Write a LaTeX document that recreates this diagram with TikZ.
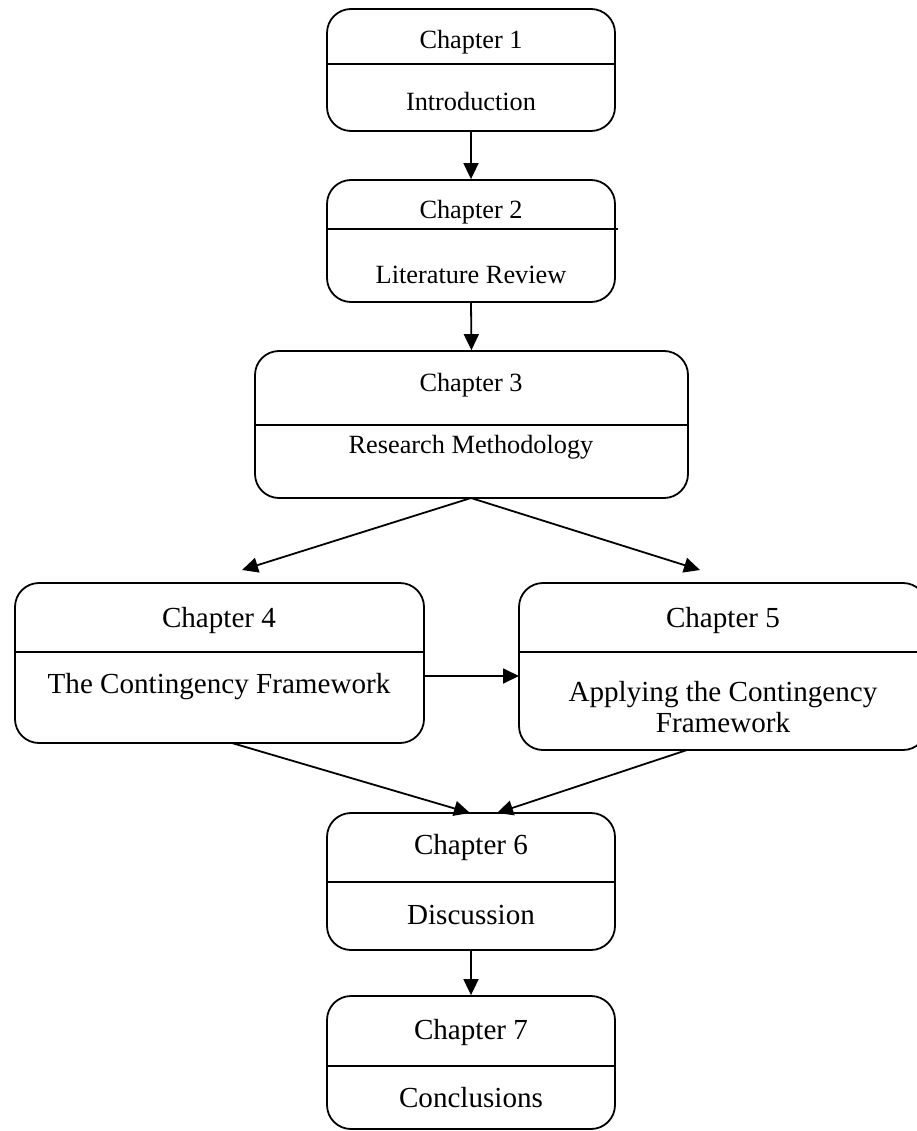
\documentclass[tikz,border=0pt]{standalone}
\usepackage{fontspec}
\setmainfont{Liberation Serif}
\usetikzlibrary{arrows.meta}
\tikzset{
  box/.style={draw, line width=1.8pt, rounded corners=24pt, inner sep=0pt},
  divider/.style={line width=1.8pt},
  conn/.style={line width=1.8pt, -{Triangle[length=16pt,width=15pt]}},
  small/.style={font=\fontsize{26.3}{30}\selectfont, inner sep=0pt},
  big/.style={font=\fontsize{29.1}{31}\selectfont, inner sep=0pt, align=center},
}
\begin{document}
\begin{tikzpicture}[x=1pt,y=-1pt]
\useasboundingbox (0,0) rectangle (916,1131);
% boxes
\node[box, minimum width=288pt, minimum height=122pt] (b1) at (471,70) {};
\node[box, minimum width=288pt, minimum height=122pt] (b2) at (471,241) {};
\node[box, minimum width=433pt, minimum height=147pt] (b3) at (471.5,424.5) {};
\node[box, minimum width=409pt, minimum height=160pt] (b4) at (219.5,663) {};
\node[box, minimum width=408pt, minimum height=167pt] (b5) at (723,666.5) {};
\node[box, minimum width=288pt, minimum height=137pt] (b6) at (471,881.5) {};
\node[box, minimum width=288pt, minimum height=133pt] (b7) at (471,1062.5) {};
% dividers
\draw[divider] (b1.west |- 0,64) -- (b1.east |- 0,64);
\draw[divider] (b2.west |- 0,229) -- (618,229);
\draw[divider] (b3.west |- 0,425) -- (b3.east |- 0,425);
\draw[divider] (b4.west |- 0,652) -- (b4.east |- 0,652);
\draw[divider] (b5.west |- 0,652) -- (b5.east |- 0,652);
\draw[divider] (b6.west |- 0,882) -- (b6.east |- 0,882);
\draw[divider] (b7.west |- 0,1066) -- (b7.east |- 0,1066);
% texts
\node[small] (t1a) at (471,42) {Chapter 1};
\node[small] (t1b) at (471,102) {Introduction};
\node[small] (t2a) at (471,212) {Chapter 2};
\node[small] (t2b) at (471,275) {Literature Review};
\node[small] (t3a) at (471,385) {Chapter 3};
\node[small] (t3b) at (471,447) {Research Methodology};
\node[big] (t4a) at (219,620) {Chapter 4};
\node[big] (t4b) at (219,687) {The Contingency Framework};
\node[big] (t5a) at (723,620) {Chapter 5};
\node[big] (t5b) at (723,707) {Applying the Contingency\\Framework};
\node[big] (t6a) at (471,847) {Chapter 6};
\node[big] (t6b) at (471,915) {Discussion};
\node[big] (t7a) at (471,1032) {Chapter 7};
\node[big] (t7b) at (471,1098) {Conclusions};
% connector end points
\coordinate (p3) at (471,498);
\coordinate (p34) at (242,570);
\coordinate (p35) at (700,570);
\coordinate (p45a) at (424,676);
\coordinate (p45b) at (519,676);
\coordinate (p4) at (232,743);
\coordinate (p5) at (687,750);
\coordinate (p64) at (470,813);
\coordinate (p65) at (497,813);
% connectors
\draw[conn] (b1.south) -- (b2.north);
\draw[conn] (b2.south) -- (b3.north);
\draw[conn] (p3) -- (p34);
\draw[conn] (p3) -- (p35);
\draw[conn] (p45a) -- (p45b);
\draw[conn] (p4) -- (p64);
\draw[conn] (p5) -- (p65);
\draw[conn] (b6.south) -- (b7.north);
\end{tikzpicture}
\end{document}
